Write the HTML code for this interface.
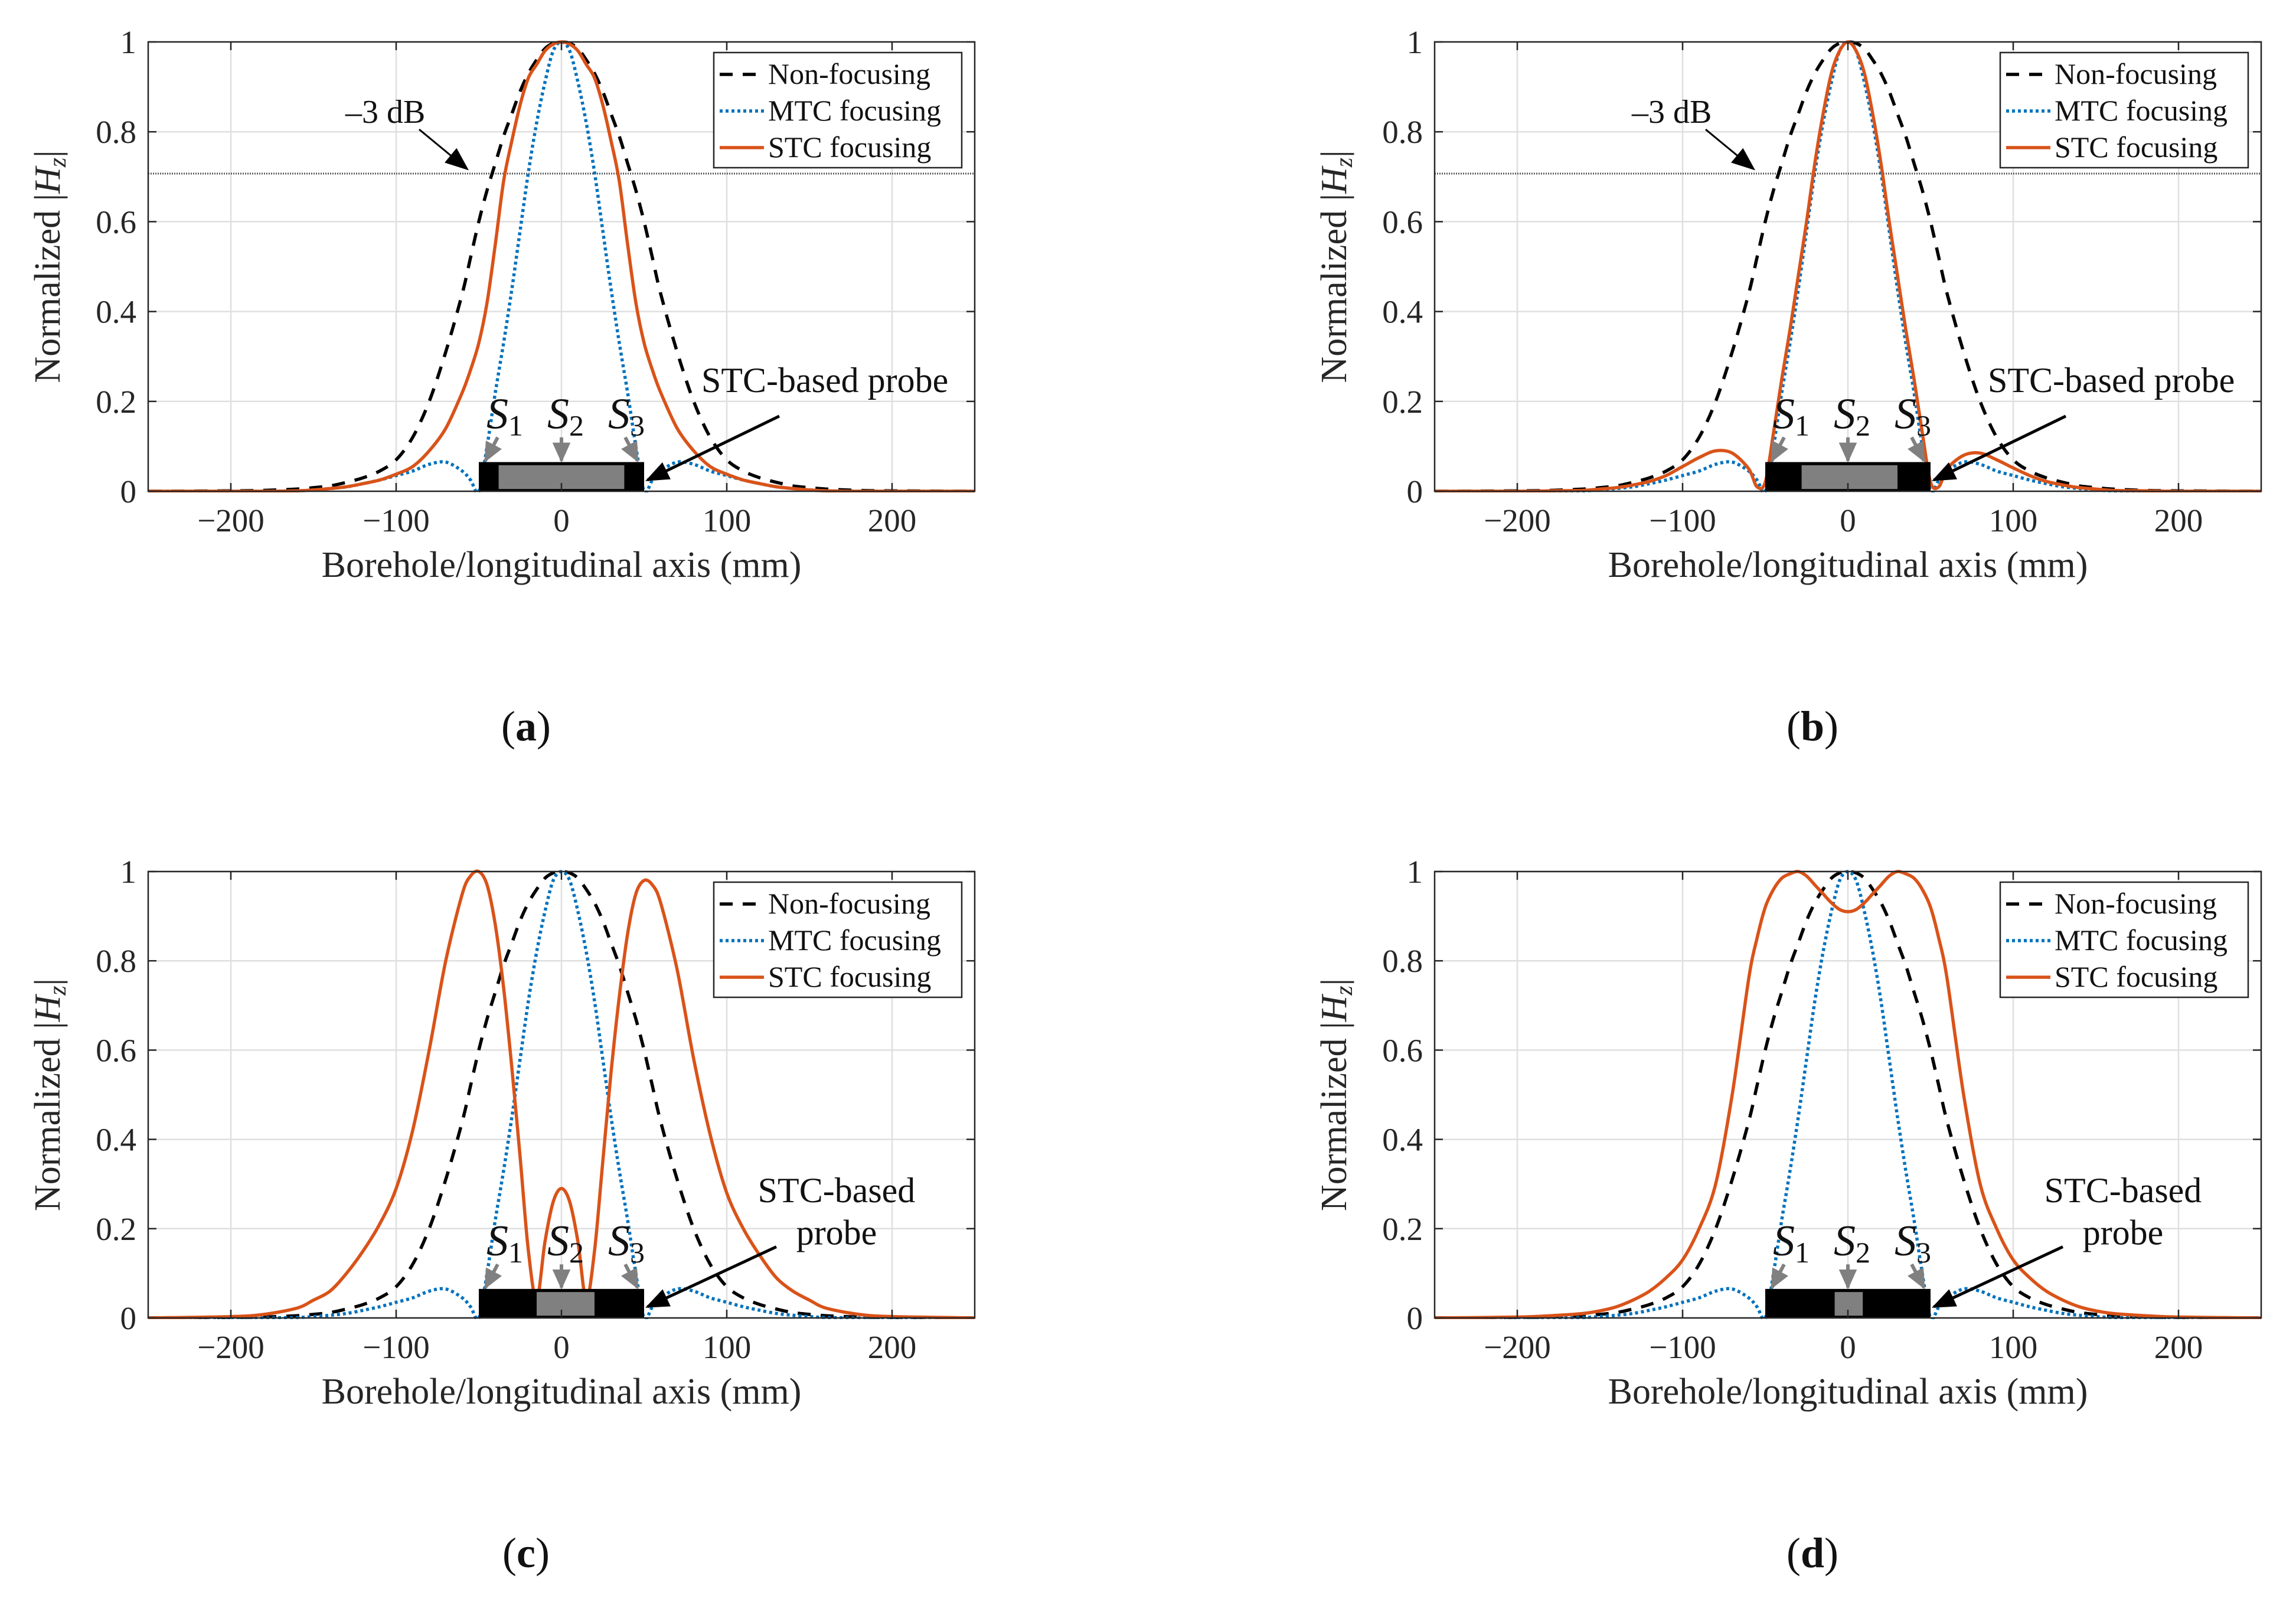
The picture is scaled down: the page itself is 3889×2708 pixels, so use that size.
<!DOCTYPE html>
<html><head><meta charset="utf-8">
<style>
html,body{margin:0;padding:0;background:#fff;}
svg{display:block;font-family:"Liberation Serif",serif;}
</style></head>
<body>
<svg id="fig" width="3889" height="2708" viewBox="0 0 3889 2708" xmlns="http://www.w3.org/2000/svg"></svg>
<script>
// ---- data ----
const xGrid = [-250,-200,-180,-160,-150,-140,-130,-120,-110,-100,-90,-80,-70,-60,
 -55,-50,-45,-40,-35,-30,-25,-20,-15,-10,-5,0,5,10,15,20,25,30,35,40,45,50,55,
 60,70,80,90,100,110,120,130,140,150,160,180,200,250];
const nonFocusing = [0,0.001,0.002,0.005,0.008,0.012,0.02,0.03,0.045,0.07,0.12,0.2,0.31,0.44,
 0.52,0.6,0.67,0.73,0.79,0.84,0.89,0.93,0.96,0.985,0.997,1,0.997,0.985,0.96,0.93,0.89,0.84,0.79,0.73,0.67,0.6,0.52,
 0.44,0.31,0.2,0.12,0.07,0.045,0.03,0.02,0.012,0.008,0.005,0.002,0.001,0];
const mtcFocusing = [0,0,0,0.001,0.003,0.006,0.01,0.017,0.025,0.035,0.045,0.06,0.065,0.045,
 0.025,0,0.1,0.22,0.33,0.45,0.58,0.71,0.82,0.91,0.98,1,0.98,0.91,0.82,0.71,0.58,0.45,0.33,0.22,0.1,0,0.025,
 0.045,0.065,0.06,0.045,0.035,0.025,0.017,0.01,0.006,0.003,0.001,0,0,0];
const stcA = [0,0,0,0.001,0.003,0.006,0.01,0.017,0.025,0.038,0.055,0.09,0.14,0.22,
 0.27,0.33,0.42,0.55,0.69,0.78,0.86,0.92,0.95,0.98,0.995,1,0.995,0.98,0.95,0.92,0.86,0.78,0.69,0.55,0.42,0.33,0.27,
 0.22,0.14,0.09,0.055,0.038,0.025,0.017,0.01,0.006,0.003,0.001,0,0,0];
const stcB = [0,0,0.001,0.002,0.005,0.008,0.014,0.022,0.035,0.055,0.075,0.09,0.085,0.05,
 0.01,0.02,0.13,0.25,0.36,0.48,0.6,0.73,0.84,0.93,0.98,1,0.98,0.93,0.84,0.73,0.6,0.48,0.36,0.25,0.13,0.02,0.01,
 0.05,0.08,0.085,0.07,0.052,0.035,0.022,0.014,0.008,0.005,0.002,0.001,0,0];
const stcC = [0,0.003,0.008,0.022,0.04,0.06,0.1,0.15,0.21,0.29,0.42,0.6,0.8,0.95,
 0.99,1.0,0.97,0.88,0.74,0.56,0.36,0.15,0.04,0.17,0.26,0.29,0.26,0.17,0.04,0.15,0.35,0.55,0.72,0.86,0.95,0.98,0.97,
 0.93,0.78,0.58,0.41,0.28,0.2,0.14,0.09,0.06,0.04,0.022,0.008,0.003,0];
const stcD = [0,0.002,0.005,0.01,0.016,0.025,0.04,0.06,0.09,0.13,0.2,0.3,0.5,0.76,
 0.85,0.92,0.96,0.985,0.995,1.0,0.99,0.97,0.95,0.93,0.915,0.91,0.915,0.93,0.95,0.97,0.99,1.0,0.995,0.985,0.96,0.92,0.85,
 0.76,0.5,0.3,0.2,0.13,0.09,0.06,0.04,0.025,0.016,0.01,0.005,0.002,0];
const xTicks = [-200,-100,0,100,200];
const yTicks = [0,0.2,0.4,0.6,0.8,1];
const yTickLabels = ["0","0.2","0.4","0.6","0.8","1"];
const legendLabels = ["Non-focusing","MTC focusing","STC focusing"];
const panelLetters = ["a","b","c","d"];
const stcSeries = [stcA, stcB, stcC, stcD];
const grayBlock = [[-38,38],[-28,30],[-15,20],[-8,9]];

const NS = "http://www.w3.org/2000/svg";
const svg = document.getElementById('fig');
function mk(tag, attrs, parent){
  const e = document.createElementNS(NS, tag);
  for (const k in attrs) e.setAttribute(k, attrs[k]);
  (parent||svg).appendChild(e);
  return e;
}
const defs = mk('defs',{});
const m1 = mk('marker',{id:'arrBlack',viewBox:'0 0 10 10',refX:'9',refY:'5',markerWidth:'40',markerHeight:'40',orient:'auto',markerUnits:'userSpaceOnUse'},defs);
mk('path',{d:'M0,1 L10,5 L0,9 z',fill:'#000'},m1);
const m2 = mk('marker',{id:'arrGray',viewBox:'0 0 10 10',refX:'9',refY:'5',markerWidth:'34',markerHeight:'34',orient:'auto',markerUnits:'userSpaceOnUse'},defs);
mk('path',{d:'M0,0.5 L10,5 L0,9.5 z',fill:'#808080'},m2);

const panels = [
 {left:251, top:71, h:761, dB:true, probe2:false},
 {left:2430, top:71, h:761, dB:true, probe2:false},
 {left:251, top:1476, h:756, dB:false, probe2:true},
 {left:2430, top:1476, h:756, dB:false, probe2:true}
];
const W = 1400;

function smoothPath(pts){
  let d = 'M'+pts[0][0].toFixed(1)+','+pts[0][1].toFixed(1);
  for (let i=0;i<pts.length-1;i++){
    const p0 = pts[Math.max(0,i-1)], p1 = pts[i], p2 = pts[i+1], p3 = pts[Math.min(pts.length-1,i+2)];
    const t = 0.16;
    const c1 = [p1[0]+(p2[0]-p0[0])*t, p1[1]+(p2[1]-p0[1])*t];
    const c2 = [p2[0]-(p3[0]-p1[0])*t, p2[1]-(p3[1]-p1[1])*t];
    d += ' C'+c1[0].toFixed(1)+','+c1[1].toFixed(1)+' '+c2[0].toFixed(1)+','+c2[1].toFixed(1)+' '+p2[0].toFixed(1)+','+p2[1].toFixed(1);
  }
  return d;
}

panels.forEach((P, pi) => {
  const sx = v => P.left + (v + 250) / 500 * W;
  const sy = v => P.top + P.h - v * P.h;
  const g = mk('g',{});
  
  
  const cid = 'clip'+pi;
  const cp = mk('clipPath',{id:cid},defs);
  mk('rect',{x:P.left,y:P.top-4,width:W,height:P.h+6},cp);
  xTicks.forEach(t => {
    const l = mk('line',{x1:sx(t),x2:sx(t),y1:P.top,y2:P.top+P.h,stroke:'#dfdfdf','stroke-width':2.5},g);
     
  });
  yTicks.forEach(t => {
    const l = mk('line',{x1:P.left,x2:P.left+W,y1:sy(t),y2:sy(t),stroke:'#dfdfdf','stroke-width':2.5},g);
     
  });
  if (P.dB){
    const l = mk('line',{x1:P.left,x2:P.left+W,y1:sy(0.707),y2:sy(0.707),stroke:'#555','stroke-width':3,'stroke-dasharray':'2 2'},g);
     
    const t = mk('text',{x:P.left+334,y:sy(0.8)-15,'font-size':56,fill:'#111'},g);
    t.textContent = '\u20133 dB';
     
    const a = mk('line',{x1:P.left+459,y1:sy(0.8)-4,x2:P.left+540,y2:sy(0.707)-8,stroke:'#000','stroke-width':3,'marker-end':'url(#arrBlack)'},g);
     
  }
  const cg = mk('g',{'clip-path':'url(#'+cid+')'},g);
  const mkCurve = (ys, attrs, name) => {
    const pts = xGrid.map((x,i)=>[sx(x), sy(ys[i])]);
    const p = mk('path', Object.assign({d:smoothPath(pts),fill:'none'}, attrs), cg);
     
  };
  mkCurve(nonFocusing,{stroke:'#000','stroke-width':5.5,'stroke-dasharray':'22 17'},'non-focusing-line');
  mkCurve(mtcFocusing,{stroke:'#0072BD','stroke-width':5.5,'stroke-dasharray':'5 5'},'mtc-focusing-line');
  mkCurve(stcSeries[pi],{stroke:'#D95319','stroke-width':5.5},'stc-focusing-line');
  const pb = mk('rect',{x:sx(-50),y:sy(0.065),width:sx(50)-sx(-50),height:sy(0)-sy(0.065),fill:'#000'},g);
   
  const gb = grayBlock[pi];
  const pg = mk('rect',{x:sx(gb[0]),y:sy(0.058),width:sx(gb[1])-sx(gb[0]),height:sy(0.005)-sy(0.058),fill:'#808080'},g);
   
  [[-40,-46,'1'],[0,0,'2'],[40,46,'3']].forEach((s,k)=>{
    const a = mk('line',{x1:sx(s[0])+(k==0?4:k==2?-4:0),y1:sy(0.12),x2:sx(s[1]),y2:sy(0.068),stroke:'#808080','stroke-width':6,'marker-end':'url(#arrGray)'},g);
     
    const t = mk('text',{x:sx(s[0]*0.92)-24,y:sy(0.14),'font-size':74,'font-style':'italic',fill:'#111'},g);
    t.textContent='S';
    const sub = mk('tspan',{'font-size':50,'font-style':'normal',dy:12},t);
    sub.textContent = s[2];
     
  });
  if (!P.probe2){
    const t = mk('text',{x:P.left+937,y:sy(0.2)-16,'font-size':60,fill:'#111'},g);
    t.textContent='STC-based probe';
     
    const a = mk('line',{x1:P.left+1069,y1:sy(0.2)+25,x2:sx(52),y2:sy(0.025),stroke:'#000','stroke-width':5,'marker-end':'url(#arrBlack)'},g);
     
  } else {
    const t = mk('text',{x:P.left+1166,y:sy(0.27)+8,'font-size':60,fill:'#111','text-anchor':'middle'},g);
    t.textContent='STC-based';
     
    const t2 = mk('text',{x:P.left+1166,y:sy(0.175)+8,'font-size':60,fill:'#111','text-anchor':'middle'},g);
    t2.textContent='probe';
     
    const a = mk('line',{x1:P.left+1064,y1:sy(0.17)+8,x2:sx(52),y2:sy(0.025),stroke:'#000','stroke-width':5,'marker-end':'url(#arrBlack)'},g);
     
  }
  const box = mk('rect',{x:P.left,y:P.top,width:W,height:P.h,fill:'none',stroke:'#262626','stroke-width':2.5},g);
   
  xTicks.forEach(t=>{
    mk('line',{x1:sx(t),x2:sx(t),y1:P.top+P.h,y2:P.top+P.h-14,stroke:'#262626','stroke-width':2.5},g);
    mk('line',{x1:sx(t),x2:sx(t),y1:P.top,y2:P.top+14,stroke:'#262626','stroke-width':2.5},g);
    const lb = mk('text',{x:sx(t),y:P.top+P.h+68,'font-size':55,'text-anchor':'middle',fill:'#262626'},g);
    lb.textContent = t<0 ? '\u2212'+Math.abs(t) : String(t);
     
  });
  yTicks.forEach((t,i)=>{
    mk('line',{x1:P.left,x2:P.left+14,y1:sy(t),y2:sy(t),stroke:'#262626','stroke-width':2.5},g);
    mk('line',{x1:P.left+W,x2:P.left+W-14,y1:sy(t),y2:sy(t),stroke:'#262626','stroke-width':2.5},g);
    const lb = mk('text',{x:P.left-20,y:sy(t)+19,'font-size':55,'text-anchor':'end',fill:'#262626'},g);
    lb.textContent = yTickLabels[i];
     
  });
  const xt = mk('text',{x:P.left+W/2,y:P.top+P.h+145,'font-size':62,'text-anchor':'middle',fill:'#262626'},g);
  xt.textContent='Borehole/longitudinal axis (mm)';
   
  const yx = P.left-150, yy = P.top+P.h*0.5;
  const yt = mk('text',{x:yx,y:yy,'font-size':62,'text-anchor':'middle',fill:'#262626',transform:'rotate(-90 '+yx+' '+yy+')'},g);
  yt.textContent='Normalized |';
  const ti = mk('tspan',{'font-style':'italic'},yt); ti.textContent='H';
  const ts = mk('tspan',{'font-size':42,'font-style':'italic',dy:10},yt); ts.textContent='z';
  const te = mk('tspan',{dy:-10},yt); te.textContent='|';
   
  const lx = P.left+958, ly = P.top+18;
  const lg = mk('g',{},g);
   
  mk('rect',{x:lx,y:ly,width:420,height:195,fill:'#fff',stroke:'#262626','stroke-width':2.5},lg);
  const styles = [{stroke:'#000','stroke-dasharray':'22 17'},{stroke:'#0072BD','stroke-dasharray':'5 5'},{stroke:'#D95319'}];
  legendLabels.forEach((lab,i)=>{
    const yy2 = ly+37+i*62;
    const e = mk('g',{},lg);
     
    mk('line',Object.assign({x1:lx+10,x2:lx+85,y1:yy2,y2:yy2,'stroke-width':5.5},styles[i]),e);
    const t = mk('text',{x:lx+92,y:yy2+16,'font-size':50,fill:'#111'},e);
    t.textContent = lab;
  });
  const pl = mk('text',{x:P.left+W/2-60,y:P.top+P.h+422,'font-size':72,'text-anchor':'middle',fill:'#111'},svg);
  pl.textContent='(';
  const b = mk('tspan',{'font-weight':'bold'},pl); b.textContent = panelLetters[pi];
  const c = mk('tspan',{},pl); c.textContent=')';
   
});
</script>
</body></html>
